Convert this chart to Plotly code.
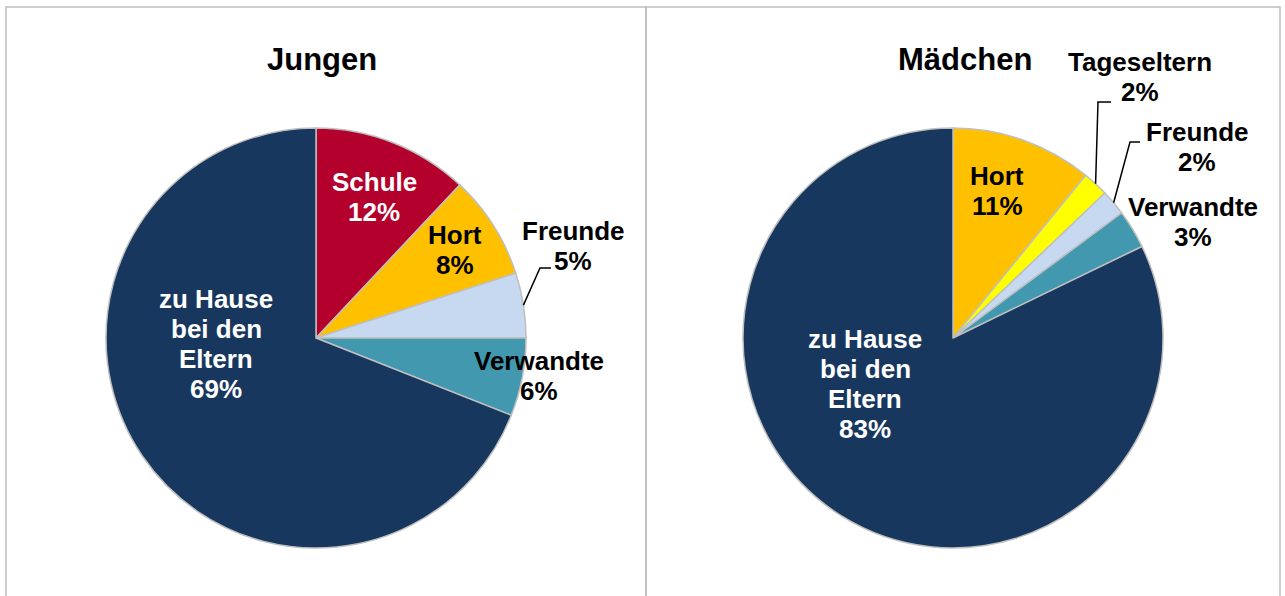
import math
import plotly.graph_objects as go

W, H = 1285, 596

# Betreuung nach der Schule (Anteile in %)
jungen_labels = ["Schule", "Hort", "Freunde", "Verwandte", "zu Hause bei den Eltern"]
jungen_values = [12, 8, 5, 6, 69]

maedchen_labels = ["Hort", "Tageseltern", "Freunde", "Verwandte", "zu Hause bei den Eltern"]
maedchen_values = [11, 2, 2, 3, 83]

colors = {
    "Schule": "#B3002D",
    "Hort": "#FFC000",
    "Tageseltern": "#FFFF00",
    "Freunde": "#C6D9F1",
    "Verwandte": "#4198AF",
    "zu Hause bei den Eltern": "#17375E",
}

# label text lines per category
label_lines = {
    "Schule": ["Schule"],
    "Hort": ["Hort"],
    "Tageseltern": ["Tageseltern"],
    "Freunde": ["Freunde"],
    "Verwandte": ["Verwandte"],
    "zu Hause bei den Eltern": ["zu Hause", "bei den", "Eltern"],
}

FONT = "Arial, Liberation Sans, sans-serif"
LABEL_SIZE = 26
TITLE_SIZE = 31
LINE_H = 30
R = 210  # pie radius in px

panels = [
    dict(title="Jungen", labels=jungen_labels, values=jungen_values,
         cx=316, cy=338, title_xy=(322, 60),
         # label block centres (px) and text colour
         text={"Schule": (374, 197, "white"), "Hort": (455, 250, "black"),
               "Freunde": (573, 246, "black"), "Verwandte": (539, 376, "black"),
               "zu Hause bei den Eltern": (216, 344, "white")},
         # leader lines: elbow and end points (px)
         leaders={"Freunde": [(540, 268), (551, 268)]}),
    dict(title="Mädchen", labels=maedchen_labels, values=maedchen_values,
         cx=953, cy=338, title_xy=(965, 60),
         text={"Hort": (997, 191, "black"), "Tageseltern": (1140, 77, "black"),
               "Freunde": (1197, 147, "black"), "Verwandte": (1193, 222, "black"),
               "zu Hause bei den Eltern": (865, 384, "white")},
         leaders={"Tageseltern": [(1098, 102), (1111, 102)],
                  "Freunde": [(1130, 142), (1140, 142)]}),
]


def px(x):
    return x / W


def py(y):
    return 1 - y / H


fig = go.Figure()
annotations = []
shapes = []

for p in panels:
    cx, cy = p["cx"], p["cy"]
    fig.add_trace(go.Pie(
        labels=p["labels"], values=p["values"],
        sort=False, direction="clockwise", rotation=0,
        marker=dict(colors=[colors[l] for l in p["labels"]],
                    line=dict(color="#BFBFBF", width=1.5)),
        textinfo="none", hoverinfo="label+percent", showlegend=False,
        domain=dict(x=[px(cx - R), px(cx + R)], y=[py(cy + R), py(cy - R)]),
    ))

    tx, ty = p["title_xy"]
    annotations.append(dict(
        text=f"<b>{p['title']}</b>", x=px(tx), y=py(ty), xref="paper", yref="paper",
        xanchor="center", yanchor="middle", showarrow=False,
        font=dict(family=FONT, size=TITLE_SIZE, color="black")))

    total = sum(p["values"])
    cum = 0
    for lab, val in zip(p["labels"], p["values"]):
        mid = (cum + val / 2) / total * 2 * math.pi
        cum += val
        x0, y0, col = p["text"][lab]
        lines = label_lines[lab] + [f"{val}%"]
        n = len(lines)
        for i, line in enumerate(lines):
            yy = y0 + (i - (n - 1) / 2) * LINE_H
            annotations.append(dict(
                text=f"<b>{line}</b>", x=px(x0), y=py(yy), xref="paper", yref="paper",
                xanchor="center", yanchor="middle", showarrow=False,
                font=dict(family=FONT, size=LABEL_SIZE, color=col)))
        if lab in p["leaders"]:
            sx = cx + R * math.sin(mid)
            sy = cy - R * math.cos(mid)
            pts = [(sx, sy)] + p["leaders"][lab]
            path = "M " + " L ".join(f"{px(a):.5f},{py(b):.5f}" for a, b in pts)
            shapes.append(dict(type="path", path=path, xref="paper", yref="paper",
                               line=dict(color="black", width=1.5)))

# panel frames
for x0, x1 in [(6, 646), (646, 1280)]:
    shapes.append(dict(type="rect", xref="paper", yref="paper",
                       x0=px(x0), x1=px(x1), y0=py(H + 20), y1=py(7),
                       line=dict(color="#BFBFBF", width=1.5), layer="below"))

fig.update_layout(
    width=W, height=H, margin=dict(l=0, r=0, t=0, b=0),
    paper_bgcolor="white", plot_bgcolor="white",
    annotations=annotations, shapes=shapes,
)

fig.write_html("out.html")
